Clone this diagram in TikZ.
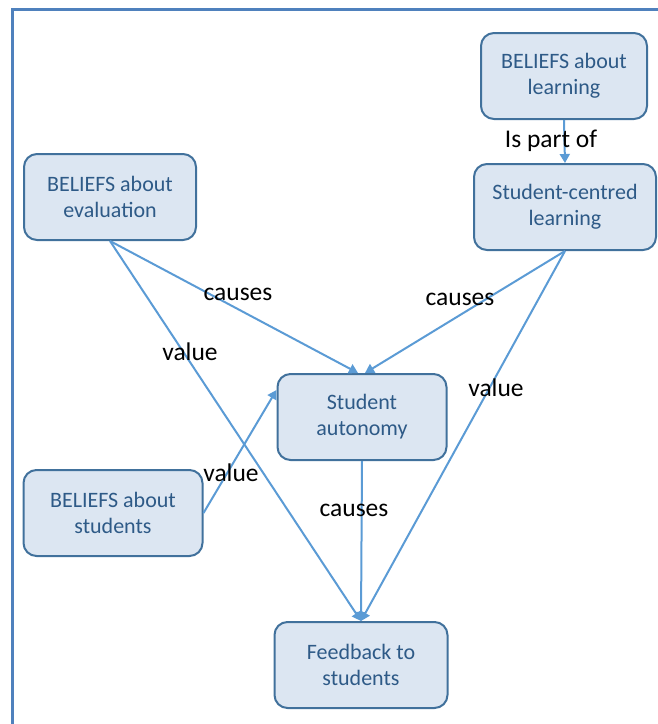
\documentclass[tikz,border=0pt]{standalone}
\usepackage{fontspec}
\setmainfont{Carlito}
\usetikzlibrary{arrows.meta}
\definecolor{boxfill}{HTML}{DCE6F2}
\definecolor{boxline}{HTML}{41719C}
\definecolor{boxtext}{HTML}{2E5A87}
\definecolor{arrowblue}{HTML}{5B9BD5}
\definecolor{framecol}{HTML}{4F81BD}
\tikzstyle{concept}=[rectangle, rounded corners=13pt, draw=boxline, line width=2pt, fill=boxfill, text=boxtext, font=\fontsize{22}{26}\selectfont, align=center, minimum height=86pt, inner sep=2pt]
\begin{document}
\begin{tikzpicture}[x=1pt, y=-1pt,
                    link/.style={draw=arrowblue, line width=2pt, -{Triangle[length=9pt,width=10pt]}},
                    lbl/.style={font=\fontsize{25.5}{28}\selectfont, text=black, inner sep=0pt}]
    \useasboundingbox (0,0) rectangle (658,724);
    \draw[framecol, line width=2.2pt] (12.5,724) -- (12.5,9.5) -- (658,9.5);
    \node[concept, minimum width=166pt] (lrn) at (564,76) {BELIEFS about\\learning};
    \node[concept, minimum width=182pt] (scl) at (565,207) {Student-centred\\learning};
    \node[concept, minimum width=172pt] (ev) at (110,197) {BELIEFS about\\evaluation};
    \node[concept, minimum width=169pt] (aut) at (362,417) {Student\\autonomy};
    \node[concept, minimum width=179pt] (stu) at (113,513) {BELIEFS about\\students};
    \node[concept, minimum width=173pt] (fb) at (361,665) {Feedback to\\students};
    \draw[link] (lrn.south) -- (scl.north);
    \draw[link] (ev.south) -- ([xshift=-4pt]aut.north);
    \draw[link] (scl.south) -- ([xshift=3pt]aut.north);
    \draw[link] (ev.south) -- (fb.north);
    \draw[link] (scl.south) -- (fb.north);
    \draw[link] (stu.east) -- ([yshift=27pt]aut.west);
    \draw[link] (aut.south) -- (fb.north);
    \node[lbl] (l1) at (551,141) {Is part of};
    \node[lbl] (l2) at (238,294) {causes};
    \node[lbl] (l3) at (460,299) {causes};
    \node[lbl] (l4) at (190,352) {value};
    \node[lbl] (l5) at (496,388) {value};
    \node[lbl] (l6) at (231,473) {value};
    \node[lbl] (l7) at (354,510) {causes};
\end{tikzpicture}
\end{document}
